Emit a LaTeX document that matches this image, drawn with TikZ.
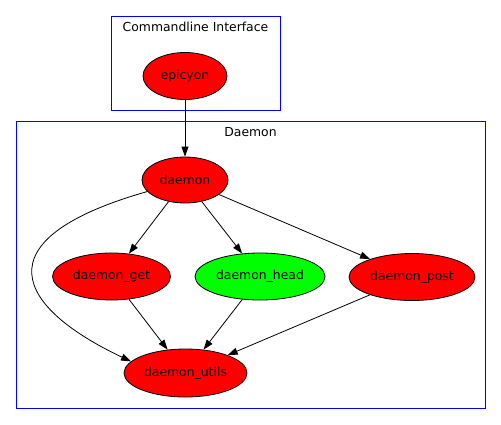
\documentclass[tikz,border=0pt]{standalone}
\usepackage{fontspec}
\setmainfont{DejaVu Sans}
\usetikzlibrary{arrows.meta,shapes.geometric}
\newcommand{\nlbl}[1]{\makebox[0pt]{#1}}
\begin{document}
\begin{tikzpicture}[x=1pt,y=-1pt,
  nd/.style={ellipse, draw=black, line width=0.8pt, inner sep=0pt, font=\fontsize{12.4}{14}\selectfont},
  rfill/.style={fill=red},
  gfill/.style={fill=green},
  clus/.style={draw=blue, line width=1pt},
  lbl/.style={font=\fontsize{12.4}{14}\selectfont},
  edge/.style={draw=black, line width=0.8pt, -{Triangle[length=10pt,width=7pt]}}]
\useasboundingbox (0,0) rectangle (501,424);
\draw[clus] (111,16) rectangle (280,110);
\node[lbl] (cliLabel) at (195.5,27) {Commandline Interface};
\draw[clus] (16,121) rectangle (485,408);
\node[lbl] (daemonLabel) at (250.5,132) {Daemon};
\node[nd,rfill,minimum width=84pt,minimum height=47pt] (epicyon) at (185,76) {\nlbl{epicyon}};
\node[nd,rfill,minimum width=86pt,minimum height=46pt] (daemon) at (185,180) {\nlbl{daemon}};
\node[nd,rfill,minimum width=118pt,minimum height=47pt] (get) at (111.5,276.5) {\nlbl{daemon\_get}};
\node[nd,gfill,minimum width=130pt,minimum height=47pt] (head) at (260,276.5) {\nlbl{daemon\_head}};
\node[nd,rfill,minimum width=126pt,minimum height=47pt] (post) at (412,277) {\nlbl{daemon\_post}};
\node[nd,rfill,minimum width=123pt,minimum height=48pt] (utils) at (185.5,373) {\nlbl{daemon\_utils}};
\draw[edge] (epicyon) -- (daemon);
\draw[edge] (daemon) -- (get);
\draw[edge] (daemon) -- (head);
\draw[edge] (daemon) -- (post);
\draw[edge] (get) -- (utils);
\draw[edge] (head) -- (utils);
\draw[edge] (post) -- (utils);
\draw[edge] (daemon.197) .. controls (-23,240) and (18,308) .. (utils.168);
\end{tikzpicture}
\end{document}
